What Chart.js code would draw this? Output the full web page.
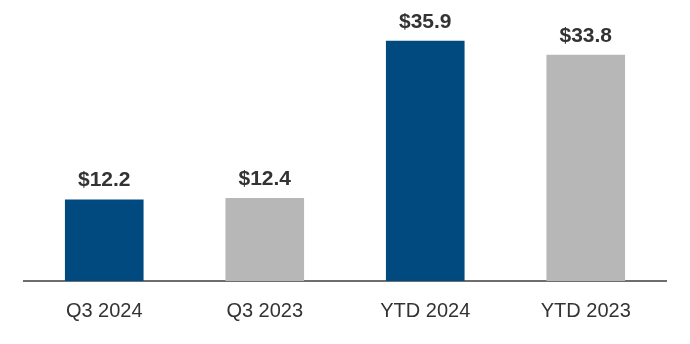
<!DOCTYPE html>
<html>
<head>
<meta charset="utf-8">
<script src="https://cdn.jsdelivr.net/npm/chart.js@4/dist/chart.umd.min.js"></script>
<style>
    html, body { margin: 0; padding: 0; background: #ffffff; }
    #wrap { width: 690px; height: 344px; position: relative; }
</style>
</head>
<body>
<div id="wrap"><canvas id="chart"></canvas></div>
<script>
const categories = ["Q3 2024", "Q3 2023", "YTD 2024", "YTD 2023"];
const values = [12.2, 12.4, 35.9, 33.8];
const barColors = ["#004a80", "#b7b7b7", "#004a80", "#b7b7b7"];

const FONT = "'Liberation Sans', Arial, sans-serif";

// draws the "$12.2" style labels above each bar
const valueLabels = {
    id: "valueLabels",
    afterDatasetsDraw(chart) {
        const ctx = chart.ctx;
        const meta = chart.getDatasetMeta(0);
        ctx.save();
        ctx.font = `bold 21px ${FONT}`;
        ctx.fillStyle = "#333333";
        ctx.textAlign = "center";
        ctx.textBaseline = "alphabetic";
        meta.data.forEach((bar, i) => {
            ctx.fillText(`$${values[i].toFixed(1)}`, bar.x, bar.y - 13);
        });
        ctx.restore();
    }
};

new Chart(document.getElementById("chart"), {
    type: "bar",
    data: {
        labels: categories,
        datasets: [{
            data: values,
            backgroundColor: barColors,
            borderWidth: 0,
            barPercentage: 0.49,
            categoryPercentage: 1
        }]
    },
    options: {
        responsive: true,
        maintainAspectRatio: false,
        animation: false,
        layout: { padding: { left: 24, right: 24, top: 0, bottom: 3 } },
        plugins: {
            legend: { display: false },
            tooltip: { enabled: false }
        },
        scales: {
            x: {
                grid: { display: false, drawTicks: false },
                border: { display: true, color: "#6e6e6e", width: 2 },
                ticks: {
                    color: "#333333",
                    padding: 18,
                    font: { family: FONT, size: 20 }
                }
            },
            y: {
                display: false,
                min: 0,
                max: 42
            }
        }
    },
    plugins: [valueLabels]
});
</script>
</body>
</html>
